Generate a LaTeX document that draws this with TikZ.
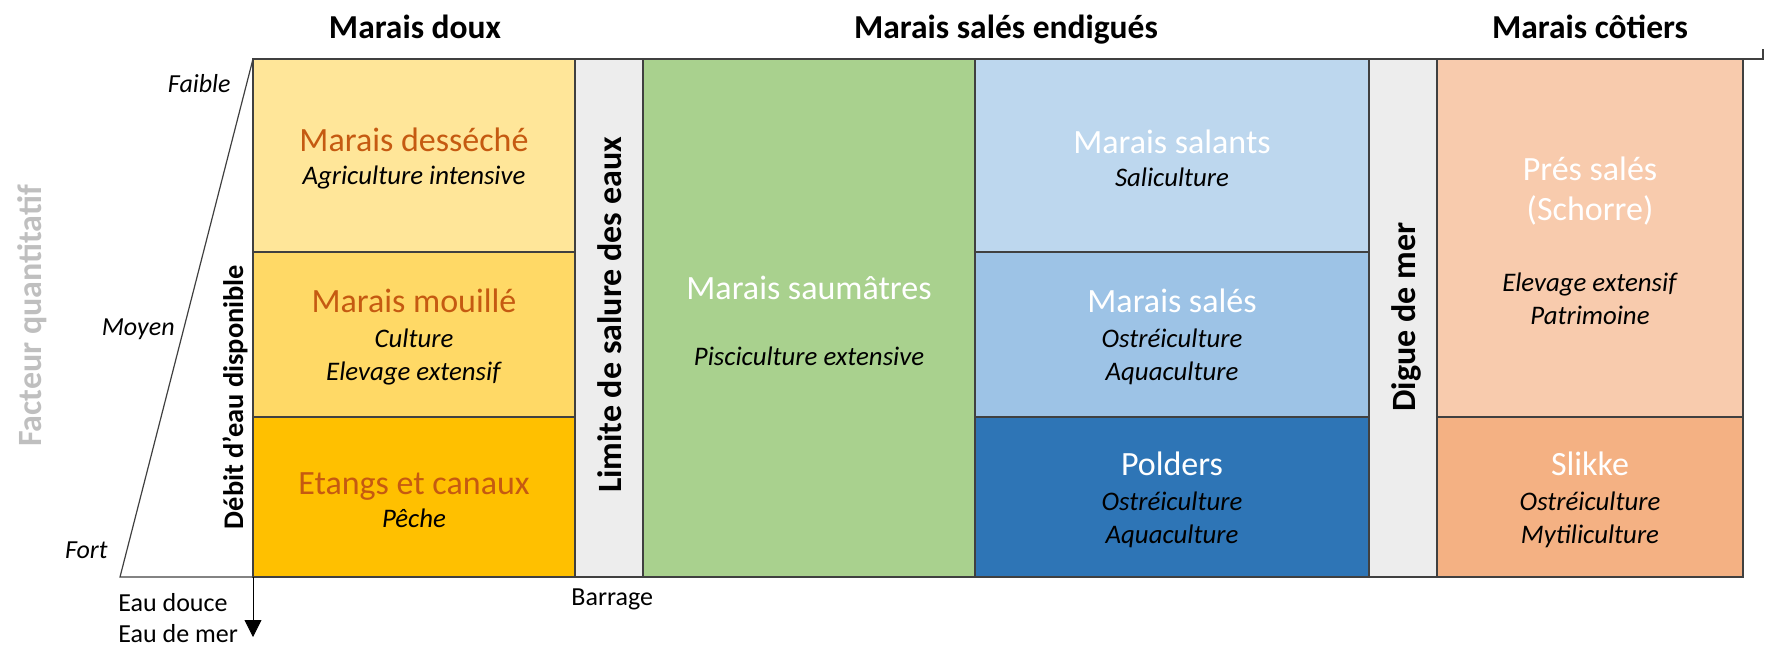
\documentclass[tikz,border=0pt]{standalone}
\usepackage{fontspec}
\setmainfont{Carlito}
\usetikzlibrary{arrows.meta}

\definecolor{doux1}{HTML}{FFE699}
\definecolor{doux2}{HTML}{FFD966}
\definecolor{doux3}{HTML}{FFC000}
\definecolor{greyband}{HTML}{EDEDED}
\definecolor{saumatre}{HTML}{A9D18E}
\definecolor{sale1}{HTML}{BDD7EE}
\definecolor{sale2}{HTML}{9DC3E6}
\definecolor{sale3}{HTML}{2E75B6}
\definecolor{cote1}{HTML}{F8CBAD}
\definecolor{cote2}{HTML}{F4B183}
\definecolor{titleorange}{HTML}{C55A11}
\definecolor{factgray}{HTML}{BFBFBF}
\definecolor{framegray}{HTML}{404040}

% zone name, with a strut so the block sits a little lower in its cell
\newcommand{\zonetitle}[2]{{\color{#1}\fontsize{17}{20}\selectfont\rule{0pt}{14.5pt}#2}}

\tikzset{
  frame/.style={draw=framegray, line width=0.6pt},
  cell/.style={frame, inner sep=0pt, outer sep=0pt, anchor=north west,
    align=center, font=\fontsize{13.4}{16.5}\selectfont},
  zone/.style={anchor=base, font=\bfseries\fontsize{16.75}{20}\selectfont},
  vlabel/.style={rotate=90, anchor=base, font=\bfseries\fontsize{17}{20}\selectfont},
  level/.style={anchor=base east, inner sep=0pt, font=\itshape\fontsize{13}{16}\selectfont},
  water/.style={anchor=base west, inner sep=0pt, font=\fontsize{13}{16}\selectfont},
}

\begin{document}
\begin{tikzpicture}[x=0.5pt, y=-0.5pt]
	\useasboundingbox (0,0) rectangle (1765,647);
	% marais doux
	\node[cell, fill=doux1, minimum width=161pt, minimum height=96.5pt] (dessech) at (253,59)
		{\zonetitle{titleorange}{Marais desséché}\\\textit{Agriculture intensive}};
	\node[cell, fill=doux2, minimum width=161pt, minimum height=82.5pt] (mouille) at (253,252)
		{\zonetitle{titleorange}{Marais mouillé}\\[1pt]\textit{Culture}\\\textit{Elevage extensif}};
	\node[cell, fill=doux3, minimum width=161pt, minimum height=80pt] (etangs) at (253,417)
		{\zonetitle{titleorange}{Etangs et canaux}\\\textit{Pêche}};
	% limite de salure
	\node[cell, fill=greyband, minimum width=34pt, minimum height=259pt] (limite) at (575,59) {};
	% marais sales endigues
	\node[cell, fill=saumatre, minimum width=166pt, minimum height=259pt] (saumatre) at (643,59)
		{\zonetitle{white}{Marais saumâtres}\\[16.5pt]\textit{Pisciculture extensive}};
	\node[cell, fill=sale1, minimum width=197pt, minimum height=96.5pt] (salants) at (975,59)
		{\zonetitle{white}{Marais salants}\\\textit{Saliculture}};
	\node[cell, fill=sale2, minimum width=197pt, minimum height=82.5pt] (sales) at (975,252)
		{\zonetitle{white}{Marais salés}\\[1pt]\textit{Ostréiculture}\\\textit{Aquaculture}};
	\node[cell, fill=sale3, minimum width=197pt, minimum height=80pt] (polders) at (975,417)
		{\zonetitle{white}{Polders}\\[1pt]\textit{Ostréiculture}\\\textit{Aquaculture}};
	% digue
	\node[cell, fill=greyband, minimum width=34pt, minimum height=259pt] (digue) at (1369,59) {};
	% marais cotiers
	\node[cell, fill=cote1, minimum width=153pt, minimum height=179pt] (pres) at (1437,59)
		{\zonetitle{white}{Prés salés}\\[3.5pt]{\color{white}\fontsize{17}{20}\selectfont(Schorre)}\\[19pt]\textit{Elevage extensif}\\\textit{Patrimoine}};
	\node[cell, fill=cote2, minimum width=153pt, minimum height=80pt] (slikke) at (1437,417)
		{\zonetitle{white}{Slikke}\\[1pt]\textit{Ostréiculture}\\\textit{Mytiliculture}};
	% top end of the frame
	\coordinate (tick) at (1763,59);
	\draw[frame] (pres.north east) -- (tick) -- ++(0,-10);
	% left axis
	\coordinate (fortpt) at (120,577);
	\coordinate (merpt) at (253,637);
	\draw[frame] (dessech.north west) -- (fortpt) -- (etangs.south west);
	\draw[-{Triangle[width=8.5pt,length=8.5pt]}] (etangs.south west) -- (merpt);
	% headings
	\node[zone] (hdoux) at (415,39) {Marais doux};
	\node[zone] (hsales) at (1006,39) {Marais salés endigués};
	\node[zone] (hcotiers) at (1590,39) {Marais côtiers};
	% vertical labels
	\node[vlabel] (limlbl) at (621,315) {Limite de salure des eaux};
	\node[vlabel] (diglbl) at (1415,317) {Digue de mer};
	\node[vlabel, font=\bfseries\fontsize{14.2}{17}\selectfont] (debit) at (243,397) {Débit d’eau disponible};
	\node[vlabel, text=factgray] (facteur) at (41,316) {Facteur quantitatif};
	% levels
	\path
	(231,93) node[level] (faible) {Faible}
	(175,335) node[level] (moyen) {Moyen}
	(108,558) node[level] (fort) {Fort}
	(118,611) node[water] (douce) {Eau douce}
	(118,642) node[water] (mer) {Eau de mer}
	(571,605) node[water] (barrage) {Barrage}
	;
\end{tikzpicture}
\end{document}
